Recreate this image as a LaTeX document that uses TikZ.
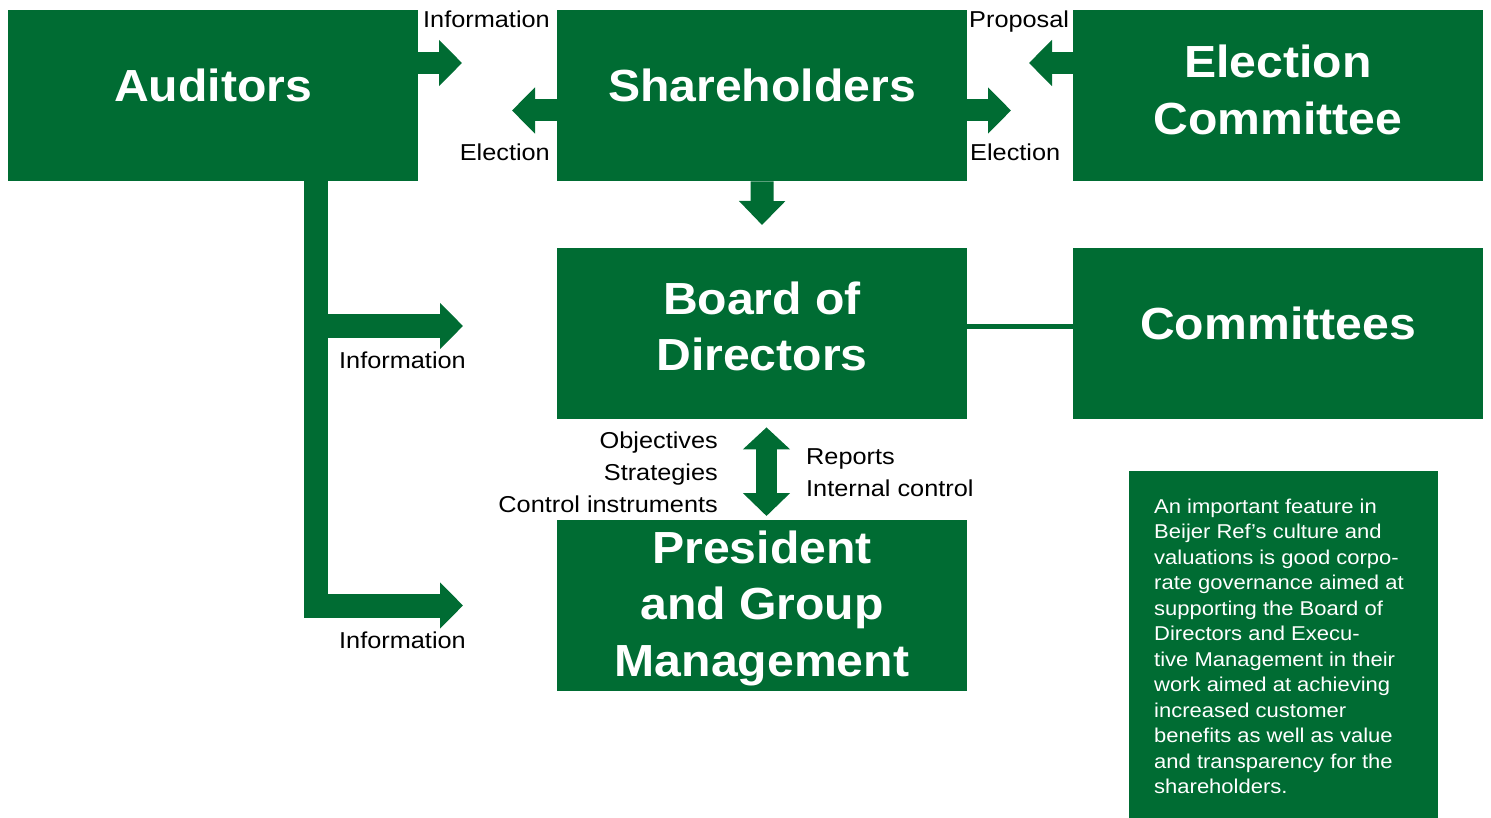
\documentclass[tikz,border=0pt]{standalone}
\usepackage{fontspec}
\setmainfont{Liberation Sans}
\newfontfamily\boldfnt{Liberation Sans}[FakeStretch=1.07]
\newfontfamily\lblfnt{Liberation Sans}[FakeStretch=1.1]
\usetikzlibrary{arrows.meta}
\definecolor{brgreen}{RGB}{0,108,51}
\begin{document}
\begin{tikzpicture}[x=1pt,y=-1pt,
  box/.style={fill=brgreen, draw=none, inner sep=0, minimum width=410pt, minimum height=171pt, anchor=north west},
  big/.style={text=white, font=\boldfnt\bfseries\fontsize{45}{56.5}\selectfont, inner sep=0, anchor=base},
  lbl/.style={text=black, font=\lblfnt\fontsize{23}{32}\selectfont, inner sep=0},
  para/.style={text=white, font=\lblfnt\fontsize{20}{25.5}\selectfont, inner sep=0, anchor=base west},
  flow/.style={draw=brgreen, line width=22pt, line cap=butt, -{Triangle[length=23pt,width=45pt]}},
  flowv/.style={draw=brgreen, line width=23pt, line cap=butt, -{Triangle[length=24pt,width=45pt]}},
  bracket/.style={draw=brgreen, line width=24pt, line cap=butt, line join=miter, -{Triangle[length=23pt,width=45pt]}},
  dbl/.style={draw=brgreen, line width=21pt, line cap=butt, {Triangle[length=22pt,width=46pt]}-{Triangle[length=23pt,width=46pt]}}
]
\useasboundingbox (0,0) rectangle (1491,818);

% boxes
\node[box] (auditors) at (8,10) {};
\node[box] (shareholders) at (557,10) {};
\node[box] (election) at (1073,10) {};
\node[box] (board) at (557,248) {};
\node[box] (committees) at (1073,248) {};
\node[box] (president) at (557,520) {};
\node[fill=brgreen, inner sep=0, minimum width=309pt, minimum height=348pt, anchor=north west] (notebox) at (1129,471) {};

% box texts
\node[big] (auditorsT) at (213,102) {Auditors};
\node[big] (shareholdersT) at (762,102) {Shareholders};
\node[big] (electionT) at (1278,78) {\parbox[t]{400pt}{\centering Election\\Committee}};
\node[big] (boardT) at (762,314) {\parbox[t]{400pt}{\centering Board of\\Directors}};
\node[big] (committeesT) at (1278,339) {Committees};
\node[big] (presidentT) at (762,563) {\parbox[t]{400pt}{\centering President\\and Group\\Management}};

% note text
\node[para] (noteT) at (1154,513) {\parbox[t]{300pt}{\raggedright
An important feature in\\
Beijer Ref’s culture and\\
valuations is good corpo-\\
rate governance aimed at\\
supporting the Board of\\
Directors and Execu-\\
tive Management in their\\
work aimed at achieving\\
increased customer\\
benefits as well as value\\
and transparency for the\\
shareholders.}};

% coordinates for free arrow ends
\coordinate (infotip) at (462,63);
\coordinate (elLtip) at (512,110.5);
\coordinate (elRtip) at (1011,110.5);
\coordinate (proptip) at (1029,63);
\coordinate (downtip) at (762,225);
\coordinate (brcorner) at (316,605.5);
\coordinate (brA) at (463,326);
\coordinate (brB) at (463,605.5);
\coordinate (dblx) at (766.5,0);
\coordinate (linkY) at (0,326);

% arrows
\draw[flow] (auditors.east |- infotip) -- (infotip);
\draw[flow] (shareholders.west |- elLtip) -- (elLtip);
\draw[flow] (shareholders.east |- elRtip) -- (elRtip);
\draw[flow] (election.west |- proptip) -- (proptip);
\draw[flowv] (shareholders.south) -- (downtip);
\draw[bracket] (auditors.south -| brcorner) -- (brcorner) -- (brB);
\draw[bracket] (brcorner |- brA) -- (brA);
\draw[dbl, shorten <=8pt, shorten >=4pt] (board.south -| dblx) -- (president.north -| dblx);
\draw[brgreen, line width=5pt] (board.east |- linkY) -- (committees.west |- linkY);

% labels
\node[lbl, anchor=base west] (infoTop) at (423,28) {Information};
\node[lbl, anchor=base west] (proposal) at (969,28) {Proposal};
\node[lbl, anchor=base east] (electionL) at (550,161) {Election};
\node[lbl, anchor=base west] (electionR) at (970,161) {Election};
\node[lbl, anchor=base west] (infoMid) at (339,368) {Information};
\node[lbl, anchor=base west] (infoLow) at (339,648) {Information};
\node[lbl, anchor=base east] (objectives) at (718,448) {\parbox[t]{300pt}{\raggedleft Objectives\\Strategies\\Control instruments}};
\node[lbl, anchor=base west] (reports) at (806,464) {\parbox[t]{300pt}{\raggedright Reports\\Internal control}};
\end{tikzpicture}
\end{document}
